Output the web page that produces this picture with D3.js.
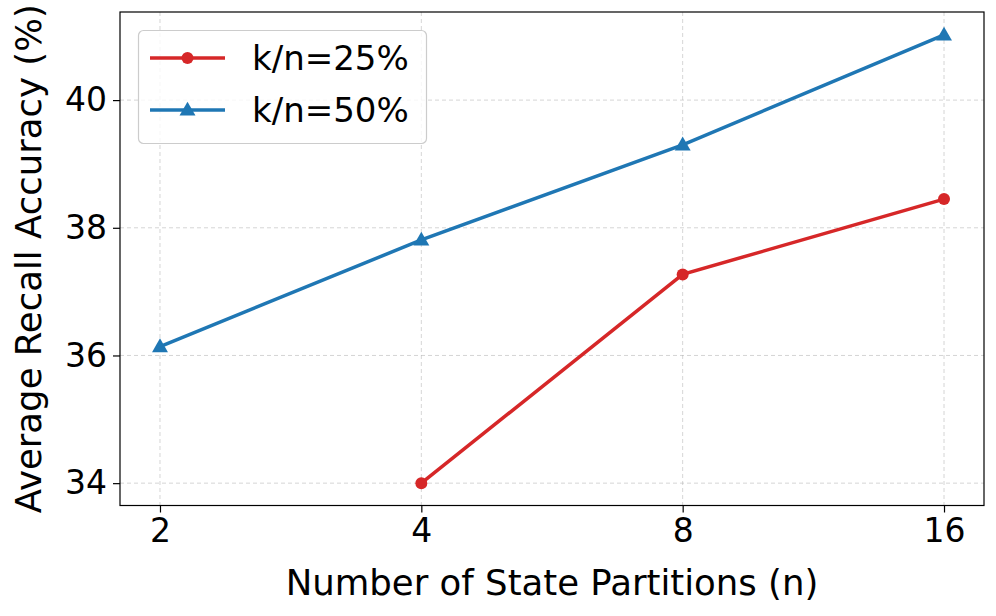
<!DOCTYPE html>
<html>
<head>
<meta charset="utf-8">
<script src="https://cdn.jsdelivr.net/npm/d3@7"></script>
<style>
  html, body { margin: 0; padding: 0; background: #fff; }
  svg { display: block; font-family: "DejaVu Sans", sans-serif; }
</style>
</head>
<body>
<svg id="chart" width="996" height="616"></svg>
<script>
// ---- data ----
const partitions = [2, 4, 8, 16];
const seriesNames = ["k/n=25%", "k/n=50%"];
const valuesK25 = [null, 34.0, 37.27, 38.45];
const valuesK50 = [36.14, 37.81, 39.3, 41.02];
const yTicks = [34, 36, 38, 40];
const xLabel = "Number of State Partitions (n)";
const yLabel = "Average Recall Accuracy (%)";

const colors = ["#d62728", "#1f77b4"];
const markers = ["circle", "triangle"];
const seriesValues = [valuesK25, valuesK50];

(function () {
const svg = d3.select("#chart");
const pLeft = 120, pRight = 984, pTop = 12, pBottom = 505.5;

// log2 scale with matplotlib-like 5% margin in log space
const lmin = Math.log2(2), lmax = Math.log2(16), pad = (lmax - lmin) * 0.051;
const x = d3.scaleLog().base(2)
  .domain([Math.pow(2, lmin - pad), Math.pow(2, lmax + pad)])
  .range([pLeft, pRight]);
const y = d3.scaleLinear().domain([33.65, 41.38]).range([pBottom, pTop]);

// grid
const grid = svg.append("g");
grid.selectAll("line.gx").data(partitions).join("line").attr("class", "gx")
  .attr("x1", d => x(d)).attr("x2", d => x(d))
  .attr("y1", pTop).attr("y2", pBottom)
  .attr("stroke", "#b0b0b0").attr("stroke-opacity", 0.6)
  .attr("stroke-width", 0.9).attr("stroke-dasharray", "4,3");
grid.selectAll("line.gy").data(yTicks).join("line").attr("class", "gy")
  .attr("x1", pLeft).attr("x2", pRight)
  .attr("y1", d => y(d)).attr("y2", d => y(d))
  .attr("stroke", "#b0b0b0").attr("stroke-opacity", 0.6)
  .attr("stroke-width", 0.9).attr("stroke-dasharray", "4,3");

// axes
const xAxis = d3.axisBottom(x).tickValues(partitions).tickFormat(d3.format("d"))
  .tickSize(7).tickPadding(6);
const yAxis = d3.axisLeft(y).tickValues(yTicks).tickFormat(d3.format("d"))
  .tickSize(7).tickPadding(6);

const gx = svg.append("g").attr("transform", `translate(0,${pBottom})`).call(xAxis);
const gy = svg.append("g").attr("transform", `translate(${pLeft},0)`).call(yAxis);
[gx, gy].forEach(g => {
  g.select(".domain").remove();
  g.selectAll(".tick line").attr("stroke", "#000").attr("stroke-width", 1.2);
  g.selectAll(".tick text").attr("fill", "#000")
    .style("font-family", "DejaVu Sans").style("font-size", "33px");
});

// frame
svg.append("rect").attr("x", pLeft).attr("y", pTop)
  .attr("width", pRight - pLeft).attr("height", pBottom - pTop)
  .attr("fill", "none").attr("stroke", "#000").attr("stroke-width", 1.2);

// lines and markers
const line = d3.line()
  .defined(d => d.v !== null)
  .x(d => x(d.n)).y(d => y(d.v));

const triSym = d3.symbol().type(d3.symbolTriangle).size(110);

seriesValues.forEach((vals, i) => {
  const pts = partitions.map((n, j) => ({ n, v: vals[j] }));
  svg.append("path").datum(pts)
    .attr("d", line).attr("fill", "none")
    .attr("stroke", colors[i]).attr("stroke-width", 3.5);
  const g = svg.append("g");
  const valid = pts.filter(d => d.v !== null);
  if (markers[i] === "circle") {
    g.selectAll("circle").data(valid).join("circle")
      .attr("cx", d => x(d.n)).attr("cy", d => y(d.v)).attr("r", 6)
      .attr("fill", colors[i]);
  } else {
    g.selectAll("path").data(valid).join("path")
      .attr("d", triSym)
      .attr("transform", d => `translate(${x(d.n)},${y(d.v) + 1})`)
      .attr("fill", colors[i]);
  }
});

// axis labels
svg.append("text")
  .attr("x", (pLeft + pRight) / 2).attr("y", 595)
  .attr("text-anchor", "middle")
  .style("font-size", "35.5px").attr("fill", "#000")
  .text(xLabel);
svg.append("text")
  .attr("transform", `translate(41,${(pTop + pBottom) / 2}) rotate(-90)`)
  .attr("text-anchor", "middle")
  .style("font-size", "35.5px").attr("fill", "#000")
  .text(yLabel);

// legend
const lg = svg.append("g");
lg.append("rect")
  .attr("x", 138.5).attr("y", 30.5).attr("width", 288).attr("height", 113)
  .attr("rx", 5).attr("ry", 5)
  .attr("fill", "#fff").attr("fill-opacity", 0.8)
  .attr("stroke", "#cccccc").attr("stroke-width", 1.2);
const rowY = [58, 110];
seriesNames.forEach((name, i) => {
  lg.append("line")
    .attr("x1", 150).attr("x2", 225).attr("y1", rowY[i]).attr("y2", rowY[i])
    .attr("stroke", colors[i]).attr("stroke-width", 3.5);
  if (markers[i] === "circle") {
    lg.append("circle").attr("cx", 187.5).attr("cy", rowY[i]).attr("r", 6)
      .attr("fill", colors[i]);
  } else {
    lg.append("path").attr("d", triSym)
      .attr("transform", `translate(187.5,${rowY[i] + 1})`)
      .attr("fill", colors[i]);
  }
  lg.append("text")
    .attr("x", 252).attr("y", rowY[i] + 12)
    .style("font-size", "34px").attr("fill", "#000")
    .text(name);
});
})();
</script>
</body>
</html>
